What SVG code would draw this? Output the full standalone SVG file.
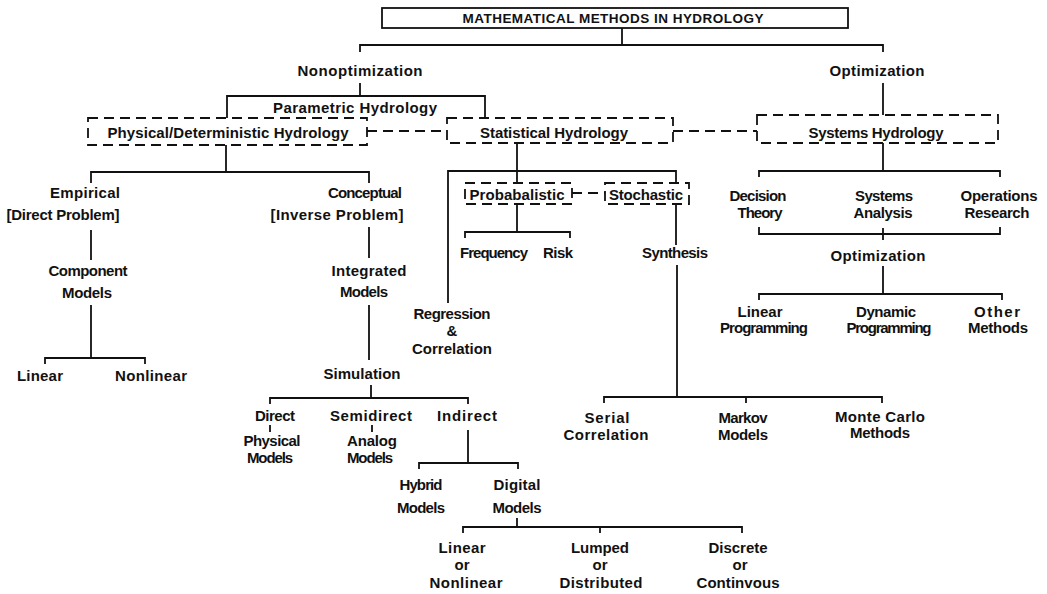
<svg xmlns="http://www.w3.org/2000/svg" width="1047" height="594" viewBox="0 0 1047 594">
  <style>
    text { font-family: "Liberation Sans", Arial, sans-serif; font-size: 15px; font-weight: 600; fill: #111; text-anchor: middle; }
    .title { font-size: 13.5px; }
    .solid { fill: none; stroke: #111; stroke-width: 1.8; }
    .dash { fill: none; stroke: #111; stroke-width: 1.8; stroke-dasharray: 10 6; }
  </style>
  <rect width="1047" height="594" fill="#fff"/>

  <!-- connectors -->
  <g id="connectors">
    <path class="solid" d="M622 28 V45 M360 52 V45 H883 V52"/>
    <path class="solid" d="M360 83 V96 M227 118 V96 H485 V118"/>
    <path class="solid" d="M883 83 V115"/>
    <path class="solid" d="M226 145 V172 M91 183 V172 H369 V183"/>
    <path class="solid" d="M91 230 V260"/>
    <path class="solid" d="M91 305 V358 M45 364 V358 H145 V364"/>
    <path class="solid" d="M369 227 V258 M369 305 V360"/>
    <path class="solid" d="M371 385 V398 M270 404 V398 H468 V404"/>
    <path class="solid" d="M270 425 V432 M372 425 V432"/>
    <path class="solid" d="M468 430 V463 M419 469 V463 H518 V469"/>
    <path class="solid" d="M517 518 V527 M463 533 V527 H742 V533 M600 527 V533"/>
    <path class="solid" d="M517 143 V183 M448 303 V171 H676 V183"/>
    <path class="solid" d="M517 204 V232 M465 238 V232 H570 V238"/>
    <path class="solid" d="M676 204 V245 M677 265 V397 M604 403 V397 H882 V403 M746 397 V403"/>
    <path class="solid" d="M883 143 V171 M759 177 V171 H1000 V177"/>
    <path class="solid" d="M759 227 V234 H1000 V227 M883 228 V240"/>
    <path class="solid" d="M883 266 V294 M759 300 V294 H1002 V300"/>
    <path class="dash" d="M367 131 H447 M673 131 H757 M572 193 H605"/>
  </g>

  <g id="root">
    <rect class="solid" x="382" y="8" width="466" height="20"/>
    <text class="title" x="613" y="23" textLength="301">MATHEMATICAL METHODS IN HYDROLOGY</text>
  </g>
  <g id="nonoptimization"><text x="360" y="76" textLength="125">Nonoptimization</text></g>
  <g id="optimization-top"><text x="877" y="76" textLength="95">Optimization</text></g>
  <g id="parametric"><text x="355" y="113" textLength="164">Parametric Hydrology</text></g>

  <g id="physical">
    <rect class="dash" x="88" y="118" width="279" height="27"/>
    <text x="228" y="138" textLength="241">Physical/Deterministic Hydrology</text>
  </g>
  <g id="statistical">
    <rect class="dash" x="447" y="118" width="226" height="25"/>
    <text x="554" y="138" textLength="148">Statistical Hydrology</text>
  </g>
  <g id="systems">
    <rect class="dash" x="757" y="115" width="241" height="28"/>
    <text x="876" y="138" textLength="135">Systems Hydrology</text>
  </g>

  <!-- physical / deterministic branch -->
  <g id="empirical">
    <text x="85" y="198" textLength="70">Empirical</text>
    <text x="63" y="220" textLength="113">[Direct Problem]</text>
  </g>
  <g id="component-models">
    <text x="88" y="276" textLength="79">Component</text>
    <text x="87" y="298" textLength="50">Models</text>
  </g>
  <g id="linear-left"><text x="40" y="381" textLength="46">Linear</text></g>
  <g id="nonlinear-left"><text x="151" y="381" textLength="72">Nonlinear</text></g>
  <g id="conceptual">
    <text x="365" y="198" textLength="74">Conceptual</text>
    <text x="337" y="220" textLength="133">[Inverse Problem]</text>
  </g>
  <g id="integrated-models">
    <text x="369" y="276" textLength="75">Integrated</text>
    <text x="364" y="297" textLength="48">Models</text>
  </g>
  <g id="simulation"><text x="362" y="379" textLength="77">Simulation</text></g>
  <g id="direct">
    <text x="275" y="421" textLength="40">Direct</text>
    <text x="272" y="446" textLength="57">Physical</text>
    <text x="270" y="463" textLength="46">Models</text>
  </g>
  <g id="semidirect">
    <text x="371" y="421" textLength="82">Semidirect</text>
    <text x="372" y="446" textLength="50">Analog</text>
    <text x="370" y="463" textLength="46">Models</text>
  </g>
  <g id="indirect"><text x="467" y="421" textLength="60">Indirect</text></g>
  <g id="hybrid">
    <text x="421" y="490" textLength="43">Hybrid</text>
    <text x="421" y="513" textLength="48">Models</text>
  </g>
  <g id="digital">
    <text x="517" y="490" textLength="47">Digital</text>
    <text x="517" y="513" textLength="49">Models</text>
  </g>
  <g id="linear-nonlinear">
    <text x="462" y="553" textLength="47">Linear</text>
    <text x="462" y="570">or</text>
    <text x="466" y="588" textLength="73">Nonlinear</text>
  </g>
  <g id="lumped-distributed">
    <text x="600" y="553" textLength="58">Lumped</text>
    <text x="600" y="570">or</text>
    <text x="601" y="588" textLength="83">Distributed</text>
  </g>
  <g id="discrete-continuous">
    <text x="738" y="553" textLength="59">Discrete</text>
    <text x="740" y="570">or</text>
    <text x="738" y="588" textLength="83">Continvous</text>
  </g>

  <!-- statistical branch -->
  <g id="probabalistic">
    <rect class="dash" x="465" y="183" width="107" height="21"/>
    <text x="517" y="200" textLength="95">Probabalistic</text>
  </g>
  <g id="stochastic">
    <rect class="dash" x="605" y="183" width="84" height="21"/>
    <text x="646" y="200" textLength="74">Stochastic</text>
  </g>
  <g id="frequency"><text x="494" y="258" textLength="68">Frequency</text></g>
  <g id="risk"><text x="558" y="258" textLength="30">Risk</text></g>
  <g id="synthesis"><text x="675" y="258" textLength="66">Synthesis</text></g>
  <g id="regression">
    <text x="452" y="319" textLength="77">Regression</text>
    <text x="452" y="336">&amp;</text>
    <text x="452" y="354" textLength="80">Correlation</text>
  </g>
  <g id="serial-correlation">
    <text x="607" y="423" textLength="45">Serial</text>
    <text x="606" y="440" textLength="85">Correlation</text>
  </g>
  <g id="markov">
    <text x="743" y="423" textLength="49">Markov</text>
    <text x="743" y="440" textLength="50">Models</text>
  </g>
  <g id="monte-carlo">
    <text x="880" y="422" textLength="90">Monte Carlo</text>
    <text x="880" y="438" textLength="60">Methods</text>
  </g>

  <!-- systems branch -->
  <g id="decision-theory">
    <text x="758" y="201" textLength="57">Decision</text>
    <text x="760" y="218" textLength="45">Theory</text>
  </g>
  <g id="systems-analysis">
    <text x="884" y="201" textLength="58">Systems</text>
    <text x="883" y="218" textLength="59">Analysis</text>
  </g>
  <g id="operations-research">
    <text x="999" y="201" textLength="77">Operations</text>
    <text x="997" y="218" textLength="65">Research</text>
  </g>
  <g id="optimization-sub"><text x="878" y="261" textLength="95">Optimization</text></g>
  <g id="linear-programming">
    <text x="760" y="317" textLength="45">Linear</text>
    <text x="764" y="333" textLength="88">Programming</text>
  </g>
  <g id="dynamic-programming">
    <text x="886" y="317" textLength="60">Dynamic</text>
    <text x="889" y="333" textLength="85">Programming</text>
  </g>
  <g id="other-methods">
    <text x="997" y="317" textLength="46">Other</text>
    <text x="998" y="333" textLength="60">Methods</text>
  </g>
</svg>
